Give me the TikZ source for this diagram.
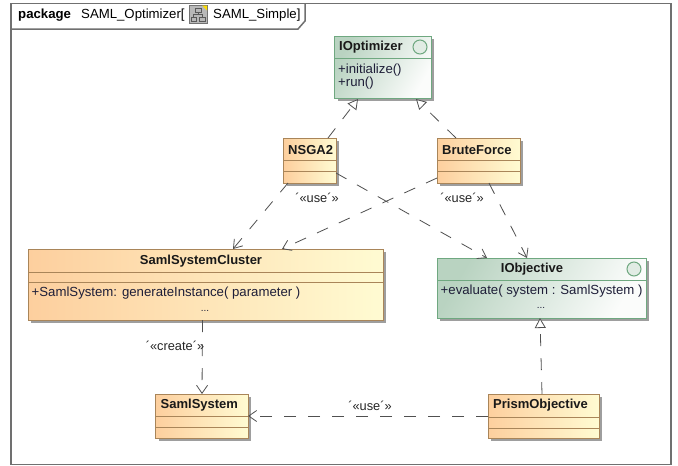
\documentclass[tikz,border=0pt]{standalone}
\usepackage{fontspec}
\setmainfont{Liberation Sans}
\usetikzlibrary{arrows.meta,shadows}
\definecolor{orline}{HTML}{A98559}
\definecolor{orleft}{HTML}{FDCF9E}
\definecolor{orright}{HTML}{FFFBD2}
\definecolor{grline}{HTML}{6FA880}
\definecolor{grdark}{HTML}{B9D3C1}
\definecolor{grlight}{HTML}{FBFCFB}
\definecolor{frameline}{HTML}{707070}
\definecolor{conn}{HTML}{505050}
\definecolor{member}{HTML}{1E1E38}
\tikzset{
  box/.style={draw,line width=1pt,inner sep=0pt,outer sep=0pt,anchor=north west,
    drop shadow={shadow xshift=3pt,shadow yshift=-3pt,fill=black!38,opacity=1}},
  orangeclass/.style={box,draw=orline,left color=orleft,right color=orright},
  greenclass/.style={box,draw=grline,top color=grdark,bottom color=grlight,shading angle=60},
  title/.style={font=\fontsize{13}{14}\selectfont\bfseries,inner sep=0pt,text=black!90,anchor=west},
  memberstyle/.style={font=\fontsize{13.2}{13.5}\selectfont,inner sep=0pt,text=member,anchor=west,align=left},
  moredots/.style={font=\fontsize{10}{10}\selectfont,inner sep=0pt,text=member,anchor=base},
  stereo/.style={font=\fontsize{12.8}{14}\selectfont,inner sep=0pt,text=black!85},
  lollipop/.style={circle,draw=grline,line width=1pt,fill=grlight!60!grdark,minimum size=14pt,inner sep=0pt},
  dep/.style={draw=conn,line width=.8pt,dash pattern=on 12pt off 12pt,-{Straight Barb[length=8pt,width=11pt,line width=.8pt]}},
  real/.style={draw=conn,line width=.8pt,dash pattern=on 12pt off 12pt,-{Triangle[open,length=10pt,width=11pt,line width=.8pt,fill=white]}},
  frameedge/.style={draw=frameline,line width=1.5pt},
  headtext/.style={font=\fontsize{13.2}{14}\selectfont,inner sep=0pt,anchor=west},
}
\newcommand{\divline}[3]{\draw[draw=#3,line width=1pt] ([yshift=-#2pt]#1.north west) -- ([yshift=-#2pt]#1.north east);}
\begin{document}
\begin{tikzpicture}[x=1pt,y=-1pt]
\useasboundingbox[fill=white] (0,0) rectangle (678,466);
% frame
\node[frameedge,fill=white,inner sep=0pt,outer sep=0pt,anchor=north west,minimum width=660pt,minimum height=461pt] (frame) at (11,3.5) {};
\draw[frameedge] ([yshift=-25.5pt]frame.north west) -- ([xshift=287pt,yshift=-25.5pt]frame.north west) -- ([xshift=294pt,yshift=-17.5pt]frame.north west) -- ([xshift=294pt]frame.north west);
\node[headtext,font=\fontsize{13.2}{14}\selectfont\bfseries] (pkg) at (18,15) {package};
\node[headtext] (pkgname) at (81,15) {SAML\_Optimizer[};
\node[draw=black!55,fill=black!28,line width=.8pt,inner sep=0pt,outer sep=0pt,minimum width=18pt,minimum height=18pt] (icon) at (198,14.5) {};
\fill[yellow!80!orange] ([xshift=-5pt]icon.north east) -- (icon.north east) -- ([yshift=-5pt]icon.north east) -- cycle;
\draw[black!65,line width=.7pt] ([xshift=-3pt,yshift=-2.5pt]icon.north) rectangle ([xshift=3pt,yshift=-6.5pt]icon.north)
  ([yshift=-6.5pt]icon.north) -- ([yshift=-9pt]icon.north)
  ([xshift=-4.5pt,yshift=-11.5pt]icon.north) -- ([xshift=-4.5pt,yshift=-9pt]icon.north) -- ([xshift=4.5pt,yshift=-9pt]icon.north) -- ([xshift=4.5pt,yshift=-11.5pt]icon.north)
  ([xshift=-7pt,yshift=-11.5pt]icon.north) rectangle ([xshift=-1.5pt,yshift=-15.5pt]icon.north)
  ([xshift=1.5pt,yshift=-11.5pt]icon.north) rectangle ([xshift=7pt,yshift=-15.5pt]icon.north);
\node[headtext] (pkgdiag) at (213,15) {SAML\_Simple]};
% classes
\node[greenclass,minimum width=96.5pt,minimum height=62pt] (iopt) at (334.5,36) {};
\divline{iopt}{22}{grline}
\node[title] (ioptT) at (339,47.5) {IOptimizer};
\node[lollipop] (ioptC) at (420,47) {};
\node[memberstyle,anchor=north west] (ioptM) at (338,63.5) {+initialize()\\+run()};

\node[orangeclass,minimum width=52.5pt,minimum height=45pt] (nsga) at (283.5,138) {};
\divline{nsga}{22.5}{orline}
\divline{nsga}{33.5}{orline}
\node[title] (nsgaT) at (288,150) {NSGA2};

\node[orangeclass,minimum width=83pt,minimum height=45pt] (brute) at (437,138) {};
\divline{brute}{22.5}{orline}
\divline{brute}{33.5}{orline}
\node[title] (bruteT) at (442,150) {BruteForce};

\node[orangeclass,minimum width=355pt,minimum height=71pt] (cluster) at (28,249) {};
\divline{cluster}{23}{orline}
\divline{cluster}{33}{orline}
\node[title,anchor=center] (clusterT) at (201,261) {SamlSystemCluster};
\node[memberstyle] (clusterM) at (31.5,293.5) {+SamlSystem: generateInstance( parameter )};
\node[moredots] (clusterE) at (205,311) {...};

\node[greenclass,minimum width=209pt,minimum height=60pt] (iobj) at (437,258) {};
\divline{iobj}{22}{grline}
\node[title,anchor=center] (iobjT) at (532,269) {IObjective};
\node[lollipop] (iobjC) at (634,269) {};
\node[memberstyle] (iobjM) at (440.5,291) {+evaluate( system : SamlSystem )};
\node[moredots] (iobjE) at (541,308.5) {...};

\node[orangeclass,minimum width=92.5pt,minimum height=44pt] (saml) at (155.5,394) {};
\divline{saml}{22}{orline}
\divline{saml}{33}{orline}
\node[title] (samlT) at (160.5,405.5) {SamlSystem};

\node[orangeclass,minimum width=111pt,minimum height=44pt] (prism) at (488,394) {};
\divline{prism}{23}{orline}
\divline{prism}{34}{orline}
\node[title] (prismT) at (493,405.5) {PrismObjective};
% connectors
\draw[real] ([xshift=44.5pt]nsga.north west) -- ([xshift=23.5pt,yshift=-1pt]iopt.south west);
\draw[real] ([xshift=19pt]brute.north west) -- ([xshift=81.5pt,yshift=-1pt]iopt.south west);
\draw[dep] ([xshift=4.5pt]nsga.south west) -- ([xshift=205pt]cluster.north west);
\draw[dep] ([yshift=-40pt]brute.north west) -- ([xshift=254pt]cluster.north west);
\draw[dep] ([yshift=-35pt]nsga.north east) -- ([xshift=50pt]iobj.north west);
\draw[dep] ([xshift=52pt]brute.south west) -- ([xshift=90pt]iobj.north west);
\draw[dep] ([xshift=174.5pt]cluster.south west) -- ([xshift=46.5pt]saml.north west);
\draw[dep] ([yshift=-22pt]prism.north west) -- ([yshift=-22pt]saml.north east);
\draw[real] ([xshift=54pt]prism.north west) -- ([xshift=103pt]iobj.south west);
% stereotypes
\node[stereo] (useA) at (317,198) {´«use´»};
\node[stereo] (useB) at (462,198) {´«use´»};
\node[stereo] (useC) at (370,406) {´«use´»};
\node[stereo] (create) at (175,346) {´«create´»};
\end{tikzpicture}
\end{document}
